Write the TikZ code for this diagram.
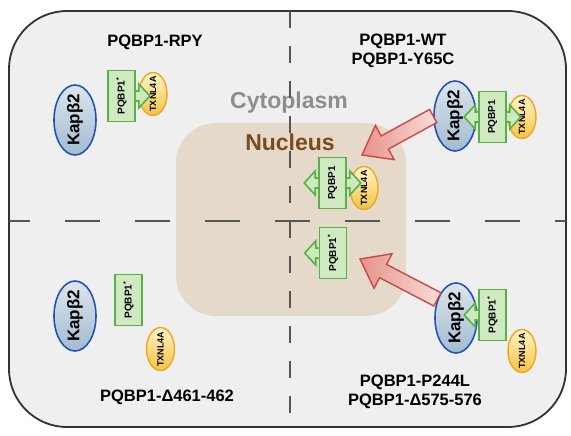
\documentclass[tikz,border=0pt]{standalone}
\usepackage{fontspec,graphicx}
\setmainfont{Liberation Sans}
\usetikzlibrary{calc,positioning,shapes.geometric}
\definecolor{framebg}{HTML}{EFEFEF}\definecolor{nucbg}{HTML}{E5DACA}
\definecolor{dashc}{HTML}{555555}\definecolor{cytc}{HTML}{8E8E8E}\definecolor{nucc}{HTML}{7B4B1E}
\definecolor{kapd}{HTML}{2553B3}\definecolor{kapt}{HTML}{DCE5EC}\definecolor{kapb}{HTML}{A3BBD1}
\definecolor{txnd}{HTML}{EFA81E}\definecolor{txnt}{HTML}{FFF4C8}\definecolor{txnb}{HTML}{F2C446}
\definecolor{pbd}{HTML}{58B046}\definecolor{pbf}{HTML}{CFE9C0}
\definecolor{redd}{HTML}{C84A48}\definecolor{redl}{HTML}{E8918B}\definecolor{redr}{HTML}{F8DEDA}
\newcommand\vt[1]{\rotatebox{90}{\makebox[0pt]{#1}}}
\tikzset{frame/.style={draw=black!80,line width=1.8pt,fill=framebg,rounded corners=58pt},
 sep/.style={draw=dashc,line width=2.6pt},
 big/.style={font=\bfseries\fontsize{23}{23}\selectfont,inner sep=0pt},
 lab/.style={font=\bfseries\fontsize{16.5}{19.5}\selectfont,align=center,inner sep=0pt},
 kap/.style={ellipse,draw=kapd,line width=1.6pt,top color=kapt,bottom color=kapb,minimum width=42pt,minimum height=70pt,inner sep=0pt,font=\bfseries\fontsize{17}{17}\selectfont},
 txn/.style={ellipse,draw=txnd,line width=1.4pt,top color=txnt,bottom color=txnb,minimum width=28pt,minimum height=43pt,inner sep=0pt,font=\bfseries\fontsize{9}{9}\selectfont},
 pb/.style={draw=pbd,line width=1.6pt,fill=pbf,minimum width=27pt,minimum height=51pt,inner sep=0pt,font=\bfseries\fontsize{10}{10}\selectfont},
 pfill/.style={fill=pbf},pline/.style={draw=pbd,line width=1.6pt,line join=miter},
 redarr/.style={draw=redd,line width=1.4pt,left color=redl,right color=redr,line join=miter}}
\newcommand\larr[1]{\path[pfill] ($(#1.west)+(0,-5)$) coordinate (s) -- ++(-3,0) -- ++(0,-7) -- ++(-11,12) -- ++(11,12) -- ++(0,-7) -- ++(3,0) -- cycle;
 \draw[pline] (s) -- ++(-3,0) -- ++(0,-7) -- ++(-11,12) -- ++(11,12) -- ++(0,-7) -- ++(3,0);}
\newcommand\rarr[1]{\path[pfill] ($(#1.east)+(0,-5)$) coordinate (s) -- ++(3,0) -- ++(0,-7) -- ++(11,12) -- ++(-11,12) -- ++(0,-7) -- ++(-3,0) -- cycle;
 \draw[pline] (s) -- ++(3,0) -- ++(0,-7) -- ++(11,12) -- ++(-11,12) -- ++(0,-7) -- ++(-3,0);}
\newcommand\bigarr[2]{\path ($(#2)!26pt!(#1)$) coordinate (bn);
 \draw[redarr] ($(#1)!7.5pt!90:(#2)$) -- ($(bn)!7.5pt!90:(#2)$) -- ($(bn)!19.5pt!90:(#2)$) -- (#2) -- ($(bn)!19.5pt!-90:(#2)$) -- ($(bn)!7.5pt!-90:(#2)$) -- ($(#1)!7.5pt!-90:(#2)$) -- cycle;}
\begin{document}
\begin{tikzpicture}[x=1pt,y=-1pt]
\useasboundingbox (0,0) rectangle (571,436);
\fill[white] (0,0) rectangle (571,436);
\draw[frame] (9,11) rectangle (566,427);
\fill[nucbg,rounded corners=40pt] (176,123) rectangle (406,316);
\node[big,text=cytc] (cyto) at (289,103) {Cytoplasm};
\node[big,text=nucc] (nucl) at (290,142) {Nucleus};
\draw[sep,dash pattern=on 35pt off 35pt,dash phase=14pt] (9,221) -- (566,221);
\draw[sep,dash pattern=on 17pt off 18pt] (290,11) -- (290,427);
\node[lab] (lrpy) at (155,42) {PQBP1-RPY};
\node[lab] (lwt) at (403,51) {PQBP1-WT\\PQBP1-Y65C};
\node[lab] (ldel) at (167,397) {PQBP1-Δ461-462};
\node[lab] (lmut) at (415,392) {PQBP1-P244L\\PQBP1-Δ575-576};
% upper left
\node[kap] (kaprpy) at (75,120) {\vt{Kapβ2}};
\node[txn] (txnrpy) at (153,94) {\vt{TXNL4A}};
\node[pb] (prpy) at (121.5,96) {\rotatebox{90}{PQBP1\textsuperscript{*}}};
\rarr{prpy}
% upper right
\node[kap] (kapwt) at (455,116) {\vt{Kapβ2}};
\node[txn] (txnwt) at (522,117) {\vt{TXNL4A}};
\node[pb] (pwt) at (492.5,117) {\rotatebox{90}{PQBP1}};
\larr{pwt}\rarr{pwt}
% nucleus
\node[txn] (txnnuc) at (364,188) {\vt{TXNL4A}};
\node[pb] (pnuc) at (332.5,183) {\rotatebox{90}{PQBP1}};
\larr{pnuc}\rarr{pnuc}
\node[pb] (pnucm) at (333,253) {\rotatebox{90}{PQBP1\textsuperscript{*}}};
\larr{pnucm}
% lower left
\node[kap] (kapdel) at (75,316) {\vt{Kapβ2}};
\node[pb] (pdel) at (128.5,300) {\rotatebox{90}{PQBP1\textsuperscript{*}}};
\node[txn] (txndel) at (160.5,349) {\vt{TXNL4A}};
% lower right
\node[kap] (kapmut) at (456,318) {\vt{Kapβ2}};
\node[txn] (txnmut) at (522,351) {\vt{TXNL4A}};
\node[pb] (pmut) at (492.5,315) {\rotatebox{90}{PQBP1\textsuperscript{*}}};
\larr{pmut}
\coordinate (h1) at (362,155);\coordinate (h2) at (360,259);
\bigarr{kapwt.west}{h1}
\bigarr{kapmut.135}{h2}
\end{tikzpicture}
\end{document}
